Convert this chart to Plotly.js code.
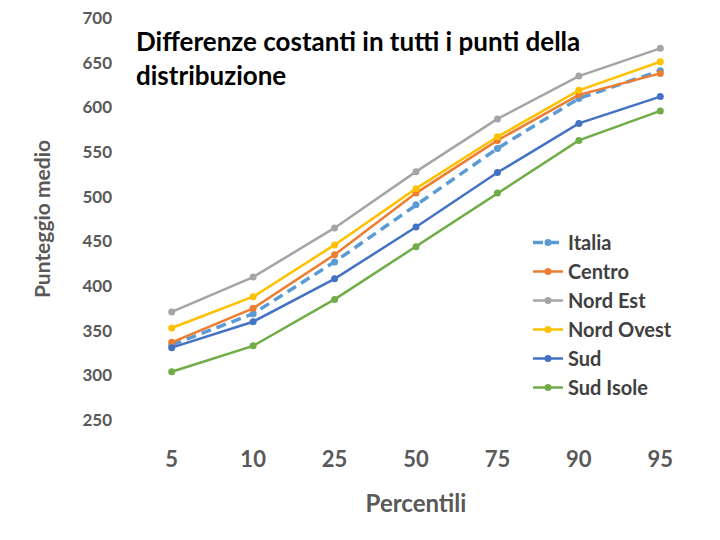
<!DOCTYPE html>
<html><head><meta charset="utf-8">
<script src="https://cdn.plot.ly/plotly-3.0.1.min.js"></script>
<style>body{margin:0;background:#fff}#c{width:720px;height:540px}</style>
</head><body><div id="c"></div>
<script>
const percentili = ["5","10","25","50","75","90","95"];
const italia    = [334, 369, 427, 491, 554, 610, 641];
const centro    = [337, 375, 435, 504, 563, 614, 638];
const nordEst   = [371, 410, 465, 528, 587, 635, 666];
const nordOvest = [353, 388, 446, 509, 567, 619, 651];
const sud       = [331, 360, 408, 466, 527, 582, 612];
const sudIsole  = [304, 333, 385, 444, 504, 563, 596];
const yTicks = [250,300,350,400,450,500,550,600,650,700];

function tr(name, y, color, dash, w){
  return {x: percentili, y: y, name: name, type:'scatter', mode:'lines+markers',
    line:{color:color, width:w||2.5, dash:dash||'solid'}, marker:{color:color, size:7}};
}
const data = [
  tr('Italia', italia, '#5B9BD5', '10px,6px', 3.5),
  tr('Centro', centro, '#ED7D31'),
  tr('Nord Est', nordEst, '#A5A5A5'),
  tr('Nord Ovest', nordOvest, '#FFC000'),
  tr('Sud', sud, '#4472C4'),
  tr('Sud Isole', sudIsole, '#70AD47')
];
const layout = {
  width:720, height:540,
  margin:{l:131, r:19, t:18, b:120},
  paper_bgcolor:'#fff', plot_bgcolor:'#fff',
  font:{family:'Lato, sans-serif', color:'#595959'},
  xaxis:{type:'category', range:[-0.5,6.5], showgrid:false, zeroline:false, showline:false,
    ticks:'', ticklabelstandoff:24, tickfont:{size:22, color:'#595959', weight:'bold'},
    title:{text:'Percentili', font:{size:24, color:'#595959', weight:'bold'}, standoff:24}},
  yaxis:{range:[250,700], tickvals:yTicks, showgrid:false, zeroline:false, showline:false,
    ticks:'', ticklabelstandoff:18, tickfont:{size:17, color:'#595959', weight:'bold'},
    title:{text:'Punteggio medio', font:{size:21, color:'#595959', weight:'bold'}, standoff:26}},
  legend:{font:{size:20, color:'#404040', weight:'bold'}, bgcolor:'rgba(0,0,0,0)', itemwidth:30},
  annotations:[{xref:'paper', yref:'paper', x:0.005, y:0.988, xanchor:'left', yanchor:'top', align:'left',
    showarrow:false, text:'Differenze costanti in tutti i punti della<br>distribuzione',
    font:{size:26, color:'#000', weight:'bold'}}]
};
layout.legend.x = (528-131)/570;
layout.legend.xanchor = 'left';
layout.legend.y = (420-223)/402;
layout.legend.yanchor = 'top';
Plotly.newPlot('c', data, layout, {displayModeBar:false});
</script></body></html>
